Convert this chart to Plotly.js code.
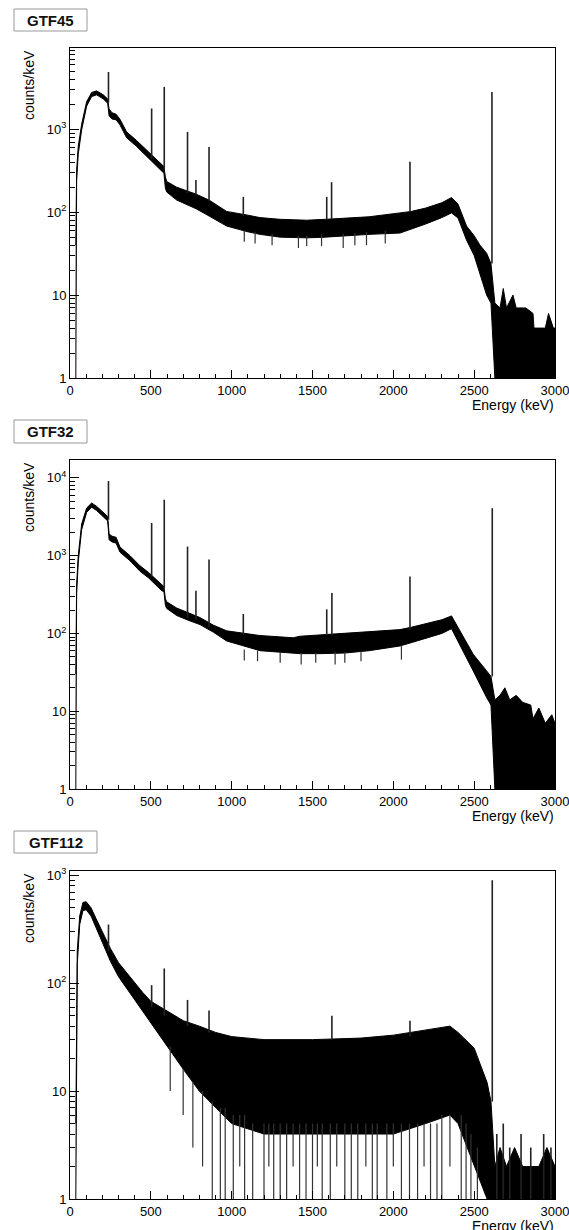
<!DOCTYPE html>
<html><head><meta charset="utf-8">
<script src="https://cdn.plot.ly/plotly-3.0.1.min.js"></script>
<style>html,body{margin:0;padding:0;background:#fff}#chart{width:569px;height:1230px}</style>
</head><body><div id="chart"></div>
<script>
// ---------------- data ----------------
const panelNames = ['GTF45', 'GTF32', 'GTF112'];
const xTickVals = [0, 500, 1000, 1500, 2000, 2500, 3000];
const xTickText = ['0', '500', '1000', '1500', '2000', '2500', '3000'];

// GTF45: continuum band (low / high envelope of the noisy histogram)
const gtf45_E  = [36,41,51,72,103,134,165,206,233,242,260,285,309,350,412,485,536,567,581,590,598,660,720,780,860,969,1100,1175,1300,1464,1580,1700,1850,2041,2110,2200,2300,2360,2400,2453,2500,2536,2577,2604,2628,2660,2680,2700,2740,2760,2820,2864,2870,2940,2960,2990,3000];
const gtf45_lo = [1,240,500,980,1900,2480,2600,2320,2060,1450,1330,1300,1130,790,620,450,350,305,295,195,175,140,125,110,90,68,58,54,50,49,50,52,54,56,62,72,86,98,85,46,30,18,10,8,1,1,1,1,1,1,1,1,1,1,1,1,1];
const gtf45_hi = [40,320,620,1150,2150,2780,2900,2600,2320,1750,1580,1520,1320,930,730,535,425,370,355,265,235,200,180,165,140,102,92,86,82,80,82,84,88,98,102,112,130,150,125,68,52,40,32,24,8,7,12,7,10,7,7,6,4,4,6,4,4];
// GTF45: lines (energy, top, base)
const gtf45_peakE    = [238,505,583,727,779,860,1072,1588,1618,2103,2610];
const gtf45_peakTop  = [4900,1780,3240,930,245,610,153,153,230,405,2820];
const gtf45_peakBase = [2100,440,330,170,160,135,90,82,82,100,24];
// GTF45: downward fluctuations (energy, bottom, top)
const gtf45_dipE   = [1078,1145,1250,1413,1464,1556,1690,1762,1834,1950];
const gtf45_dipBot = [44,42,40,37,39,39,37,40,40,42];
const gtf45_dipTop = [60,58,55,52,52,54,55,56,58,60];

// GTF32
const gtf32_E  = [36,41,51,72,103,134,165,206,233,242,260,285,309,371,433,485,536,567,581,590,598,660,742,804,886,969,1175,1381,1422,1550,1700,1850,2041,2110,2200,2300,2360,2412,2494,2577,2604,2628,2660,2690,2720,2760,2800,2850,2864,2900,2940,2980,3000];
const gtf32_lo = [1,330,820,2150,3600,4200,3800,3150,2800,1600,1500,1450,1110,860,630,520,410,355,345,230,210,170,145,130,104,80,60,56,55,55,56,60,69,76,86,100,115,72,33,15,12,1,1,1,1,1,1,1,1,1,1,1,1];
const gtf32_hi = [30,420,1000,2550,4100,4750,4300,3600,3200,1900,1780,1720,1290,1000,740,610,480,415,400,280,255,212,180,160,128,108,94,88,92,96,100,104,112,120,132,150,168,108,54,33,28,14,16,20,14,16,13,12,8,11,7,9,7];
const gtf32_peakE    = [238,505,583,727,779,860,1072,1588,1620,2103,2612];
const gtf32_peakTop  = [9100,2630,5240,1310,355,890,178,204,331,540,4080];
const gtf32_peakBase = [2900,540,380,160,150,120,95,95,95,112,28];
const gtf32_dipE   = [1078,1160,1300,1430,1520,1640,1700,1800,2050];
const gtf32_dipBot = [45,44,42,40,42,40,42,44,46];
const gtf32_dipTop = [62,60,58,56,56,58,58,60,70];

// GTF112
const gtf112_E  = [36,45,60,80,100,130,160,200,250,300,350,400,450,500,600,700,800,900,1000,1200,1500,1800,2000,2200,2350,2400,2500,2580,2604,2628,2660,2700,2750,2800,2900,2950,3000];
const gtf112_lo = [1,150,350,470,480,420,330,240,160,115,90,70,55,42,26,16,10,7,5,4,4,4,4,5,6,5,2,1,1,1,1,1,1,1,1,1,1];
const gtf112_hi = [5,200,420,560,570,500,400,300,210,155,125,100,82,68,55,45,40,35,32,30,30,31,33,37,40,35,25,12,8,2,3,2,3,2,2,3,2];
const gtf112_peakE    = [238,505,583,727,860,1620,2103,2612];
const gtf112_peakTop  = [350,96,137,70,56,50,45,900];
const gtf112_peakBase = [200,60,50,40,35,30,32,8];
const gtf112_dipE   = [620,700,760,820,880,930,960,1010,1050,1080,1130,1200,1230,1260,1300,1340,1380,1420,1460,1500,1530,1560,1610,1650,1700,1740,1780,1830,1870,1900,1960,2000,2050,2100,2150,2190,2230,2270,2300,2350,2420,2450,2480,2520];
const gtf112_dipBot = [10,6,3,2,1,1,1,1,2,1,1,1,2,1,1,1,2,1,1,1,2,1,1,2,1,1,1,2,1,1,1,2,1,1,1,2,1,1,1,2,1,1,1,1];
const gtf112_dipTop = [26,16,12,10,8,7,7,6,6,6,5,5,5,5,5,5,5,5,5,5,5,5,5,5,5,5,5,5,5,5,5,5,5,5,5,5,5,5,6,6,6,5,4,3];
// GTF112: upward fluctuations in the tail (energy, top)
const gtf112_spkE   = [2640,2680,2720,2790,2850,2930,2975];
const gtf112_spkTop = [4,5,3,4,3,4,3];

// ---------------- layout geometry ----------------
const W = 569, H = 1230, L = 70, R = 14, T = 48, B = 31;
const PW = W - L - R, PH = H - T - B;
const px2x = p => (p - L) / PW;
const py2y = p => (H - B - p) / PH;
const frames = [[48, 378], [460, 789], [871, 1199]];
const yTops = [3.98, 4.23, 3.04];
const FONT = 'Liberation Sans, Arial, Helvetica, sans-serif';

const series = [
  {E: gtf45_E, lo: gtf45_lo, hi: gtf45_hi, pE: gtf45_peakE, pT: gtf45_peakTop, pB: gtf45_peakBase, dE: gtf45_dipE, dB: gtf45_dipBot, dT: gtf45_dipTop},
  {E: gtf32_E, lo: gtf32_lo, hi: gtf32_hi, pE: gtf32_peakE, pT: gtf32_peakTop, pB: gtf32_peakBase, dE: gtf32_dipE, dB: gtf32_dipBot, dT: gtf32_dipTop},
  {E: gtf112_E, lo: gtf112_lo, hi: gtf112_hi, pE: gtf112_peakE.concat(gtf112_spkE), pT: gtf112_peakTop.concat(gtf112_spkTop),
   pB: gtf112_peakBase.concat(gtf112_spkE.map(() => 1)), dE: gtf112_dipE, dB: gtf112_dipBot, dT: gtf112_dipTop}
];

function segs(xs, y0s, y1s) {
  const x = [], y = [];
  xs.forEach((v, i) => { x.push(v, v, null); y.push(y0s[i], y1s[i], null); });
  return {x, y};
}

const data = [];
const layout = {
  width: W, height: H, margin: {l: L, r: R, t: T, b: B},
  paper_bgcolor: '#fff', plot_bgcolor: '#fff', showlegend: false,
  font: {family: FONT, size: 13, color: '#000'},
  shapes: [], annotations: []
};

const minorVals = [];
for (let d = 1; d <= 10000; d *= 10) for (let k = 2; k <= 9; k++) minorVals.push(k * d);
const majorVals = [1, 10, 100, 1000, 10000];
const majorText = ['1', '10', '10<sup>2</sup>', '10<sup>3</sup>', '10<sup>4</sup>'];

series.forEach((s, i) => {
  const n = i === 0 ? '' : String(i + 1);
  const xa = 'x' + n, ya = 'y' + n;
  data.push({x: s.E, y: s.lo, xaxis: xa, yaxis: ya, type: 'scatter', mode: 'lines',
             line: {color: '#000', width: 1}, hoverinfo: 'skip'});
  data.push({x: s.E, y: s.hi, xaxis: xa, yaxis: ya, type: 'scatter', mode: 'lines', fill: 'tonexty',
             fillcolor: '#000', line: {color: '#000', width: 1}, hoverinfo: 'skip'});
  const p = segs(s.pE, s.pB, s.pT);
  data.push({x: p.x, y: p.y, xaxis: xa, yaxis: ya, type: 'scatter', mode: 'lines',
             line: {color: '#222', width: 1.6}, hoverinfo: 'skip', connectgaps: false});
  const d = segs(s.dE, s.dT, s.dB);
  data.push({x: d.x, y: d.y, xaxis: xa, yaxis: ya, type: 'scatter', mode: 'lines',
             line: {color: '#333', width: 1.2}, hoverinfo: 'skip', connectgaps: false});

  const [top, bot] = frames[i];
  layout['xaxis' + n] = {
    domain: [0, 1], anchor: ya, range: [0, 3000], tickmode: 'array', tickvals: xTickVals, ticktext: xTickText,
    ticks: 'inside', ticklen: 8, tickwidth: 1, tickcolor: '#000', showline: true, mirror: true,
    linecolor: '#000', linewidth: 1, showgrid: false, zeroline: false, tickfont: {size: 13, family: FONT},
    ticklabeloverflow: 'allow',
    minor: {ticks: 'inside', ticklen: 4, dtick: 100, tick0: 0, tickcolor: '#000', showgrid: false}
  };
  layout['yaxis' + n] = {
    domain: [py2y(bot), py2y(top)], anchor: xa, type: 'log', range: [0, yTops[i]],
    tickmode: 'array', tickvals: majorVals, ticktext: majorText,
    ticks: 'inside', ticklen: 9, tickwidth: 1, tickcolor: '#000', showline: true, mirror: true,
    linecolor: '#000', linewidth: 1, showgrid: false, zeroline: false, tickfont: {size: 13, family: FONT},
    minor: {tickmode: 'array', tickvals: minorVals, ticks: 'inside', ticklen: 5, tickcolor: '#000', showgrid: false}
  };
  // title box
  const boxes = [[14, 87, 9, 31], [14, 87, 420, 443], [14, 97, 831, 853]];
  const bx = boxes[i];
  layout.shapes.push({type: 'rect', xref: 'paper', yref: 'paper', x0: px2x(bx[0]), x1: px2x(bx[1]),
                      y0: py2y(bx[3]), y1: py2y(bx[2]), line: {color: '#999', width: 1}, fillcolor: '#fff'});
  layout.annotations.push({xref: 'paper', yref: 'paper', x: px2x((bx[0] + bx[1]) / 2), y: py2y((bx[2] + bx[3]) / 2),
                           text: '<b>' + panelNames[i] + '</b>', showarrow: false, xanchor: 'center', yanchor: 'middle',
                           font: {size: 15, family: FONT, color: '#111'}});
  // y title
  layout.annotations.push({xref: 'paper', yref: 'paper', x: px2x(29), y: py2y(top), text: 'counts/keV',
                           textangle: -90, showarrow: false, xanchor: 'center', yanchor: 'top',
                           font: {size: 14, family: FONT, color: '#000'}});
  // x title
  layout.annotations.push({xref: 'paper', yref: 'paper', x: px2x(556), y: py2y(bot + 27), text: 'Energy (keV)',
                           showarrow: false, xanchor: 'right', yanchor: 'middle',
                           font: {size: 14, family: FONT, color: '#000'}});
});

Plotly.newPlot('chart', data, layout, {staticPlot: true, displayModeBar: false});
</script>
</body></html>
